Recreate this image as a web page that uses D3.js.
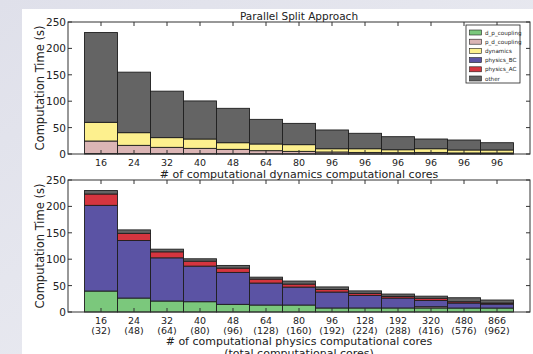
<!DOCTYPE html>
<html>
<head>
<meta charset="utf-8">
<script src="https://cdn.jsdelivr.net/npm/d3@7"></script>
<style>
  body { margin: 0; background: #e6e7ee; }
  svg { display: block; font-family: "DejaVu Sans", sans-serif; }
</style>
</head>
<body>
<svg id="chart" width="533" height="354"></svg>
<script>
// categories
var dynCores = ["16", "24", "32", "40", "48", "64", "80", "96", "96", "96", "96", "96", "96"];
var physCores = ["16", "24", "32", "40", "48", "64", "80", "96", "128", "192", "320", "480", "866"];
var totalCores = ["(32)", "(48)", "(64)", "(80)", "(96)", "(128)", "(160)", "(192)", "(224)", "(288)", "(416)", "(576)", "(962)"];
var layerNames = ["d_p_coupling", "p_d_coupling", "dynamics", "physics_BC", "physics_AC", "other"];
var layerColors = ["#7bc87c", "#dbb5b5", "#fdf08e", "#5b53a4", "#d5353f", "#646464"];
var yTicks = [0, 50, 100, 150, 200, 250];

// top panel: parallel split, dynamics side
var topDp = [1, 0.8, 0.6, 0.5, 0.5, 0.4, 0.4, 0.3, 0.3, 0.3, 0.3, 0.3, 0.3];
var topPd = [23.6, 15.6, 12, 10.2, 8.3, 5.9, 4.6, 3.5, 2.7, 2.2, 2.7, 1.7, 1.7];
var topDyn = [35.4, 24, 18.4, 17.7, 12.6, 12.7, 12.7, 6.2, 7, 5.6, 7, 5.6, 5.6];
var topBC = [0, 0, 0, 0, 0, 0, 0, 0, 0, 0, 0, 0, 0];
var topAC = [0, 0, 0, 0, 0, 0, 0, 0, 0, 0, 0, 0, 0];
var topOther = [170, 114.6, 88, 72.1, 65.1, 46.6, 40.3, 35.5, 29.2, 24.7, 18.4, 18.9, 13.8];

// bottom panel: physics side
var botDp = [39.7, 26.4, 20.8, 19.5, 14.5, 13.2, 13.2, 7.6, 7.6, 7.6, 7.6, 7.5, 7.5];
var botPd = [0, 0, 0, 0, 0, 0, 0, 0, 0, 0, 2.4, 0, 0];
var botDyn = [0, 0, 0, 0, 0, 0, 0, 0, 0, 0, 0, 0, 0];
var botBC = [162.3, 109, 81.8, 67.4, 60.5, 41.6, 34, 30.2, 23.9, 18.8, 12, 9.5, 7.5];
var botAC = [21.5, 13.6, 11.4, 9.4, 8.1, 7.5, 5.7, 4.7, 3.8, 3.2, 4, 2.5, 2];
var botOther = [6.5, 6.5, 5, 4.5, 5.1, 3.7, 5.7, 5, 4.7, 4.4, 4, 7.5, 5.7];

function buildRows(series) {
    var rows = [];
    for (var i = 0; i < series[0].length; i++) {
        var r = { idx: i };
        for (var k = 0; k < layerNames.length; k++) r[layerNames[k]] = series[k][i];
        rows.push(r);
    }
    return rows;
}

var svg = d3.select("#chart");

// slide-like backdrop and white figure area
var defs = svg.append("defs");
var grad = defs.append("linearGradient").attr("id", "bg").attr("x1", "0").attr("y1", "0").attr("x2", "1").attr("y2", "1");
grad.append("stop").attr("offset", "0%").attr("stop-color", "#dfe0ea");
grad.append("stop").attr("offset", "100%").attr("stop-color", "#eeeff4");
svg.append("rect").attr("width", 533).attr("height", 354).attr("fill", "url(#bg)");
svg.append("rect").attr("x", 22).attr("y", 9).attr("width", 511).attr("height", 345).attr("fill", "#fff");

var left = 68, right = 530;
var x = d3.scaleLinear().domain([-1, 13]).range([left, right]);
var stack = d3.stack().keys(layerNames);

function drawPanel(top, bottom, series, labels1, labels2) {
    var y = d3.scaleLinear().domain([0, 250]).range([bottom, top]);
    var g = svg.append("g");
    var layers = stack(buildRows(series));

    layers.forEach(function (layer, k) {
        g.selectAll(null)
            .data(layer.filter(function (d) { return d[1] - d[0] > 0; }))
            .join("rect")
            .attr("x", function (d) { return x(d.data.idx - 0.5); })
            .attr("width", function (d) { return x(d.data.idx + 0.5) - x(d.data.idx - 0.5); })
            .attr("y", function (d) { return y(d[1]); })
            .attr("height", function (d) { return y(d[0]) - y(d[1]); })
            .attr("fill", layerColors[k])
            .attr("stroke", "#1e1e1e")
            .attr("stroke-width", 0.9);
    });

    // frame
    g.append("rect").attr("x", left).attr("y", top).attr("width", right - left).attr("height", bottom - top)
        .attr("fill", "none").attr("stroke", "#333").attr("stroke-width", 1);

    // y ticks, inside on both sides
    yTicks.forEach(function (t) {
        g.append("line").attr("x1", left).attr("x2", left + 4).attr("y1", y(t)).attr("y2", y(t)).attr("stroke", "#333");
        g.append("line").attr("x1", right - 4).attr("x2", right).attr("y1", y(t)).attr("y2", y(t)).attr("stroke", "#333");
        g.append("text").attr("x", left - 2).attr("y", y(t) + 4).attr("text-anchor", "end")
            .attr("font-size", 10.5).attr("fill", "#222").text(t);
    });

    // x ticks, inside on both sides
    d3.range(labels1.length).forEach(function (i) {
        g.append("line").attr("x1", x(i)).attr("x2", x(i)).attr("y1", bottom).attr("y2", bottom - 4).attr("stroke", "#333");
        g.append("line").attr("x1", x(i)).attr("x2", x(i)).attr("y1", top).attr("y2", top + 4).attr("stroke", "#333");
        g.append("text").attr("x", x(i)).attr("y", bottom + 12).attr("text-anchor", "middle")
            .attr("font-size", 9.5).attr("fill", "#222").text(labels1[i]);
        if (labels2) {
            g.append("text").attr("x", x(i)).attr("y", bottom + 22).attr("text-anchor", "middle")
                .attr("font-size", 9.5).attr("fill", "#222").text(labels2[i]);
        }
    });

    g.append("text").attr("transform", "translate(44," + ((top + bottom) / 2) + ") rotate(-90)")
        .attr("text-anchor", "middle").attr("font-size", 11.5).attr("fill", "#222").text("Computation Time (s)");
    return g;
}

drawPanel(22, 154, [topDp, topPd, topDyn, topBC, topAC, topOther], dynCores, null);
drawPanel(180, 312, [botDp, botPd, botDyn, botBC, botAC, botOther], physCores, totalCores);

var mid = (left + right) / 2;
svg.append("text").attr("x", mid).attr("y", 20).attr("text-anchor", "middle").attr("font-size", 10.5)
    .attr("fill", "#222").text("Parallel Split Approach");
svg.append("text").attr("x", mid).attr("y", 178).attr("text-anchor", "middle").attr("font-size", 11)
    .attr("fill", "#222").text("# of computational dynamics computational cores");
svg.append("text").attr("x", mid).attr("y", 344.5).attr("text-anchor", "middle").attr("font-size", 11)
    .attr("fill", "#222").text("# of computational physics computational cores");
svg.append("text").attr("x", mid).attr("y", 357).attr("text-anchor", "middle").attr("font-size", 11)
    .attr("fill", "#222").text("(total computational cores)");

// legend
var lg = svg.append("g");
lg.append("rect").attr("x", 466).attr("y", 25).attr("width", 54).attr("height", 58)
    .attr("fill", "#fff").attr("stroke", "#222").attr("stroke-width", 0.8);
layerNames.forEach(function (name, k) {
    var cy = 32.5 + k * 9.2;
    lg.append("rect").attr("x", 469.5).attr("y", cy - 2.5).attr("width", 12).attr("height", 5)
        .attr("fill", layerColors[k]).attr("stroke", "#1e1e1e").attr("stroke-width", 0.6);
    lg.append("text").attr("x", 485).attr("y", cy + 2).attr("font-size", 5.6).attr("fill", "#222").text(name);
});
</script>
</body>
</html>
